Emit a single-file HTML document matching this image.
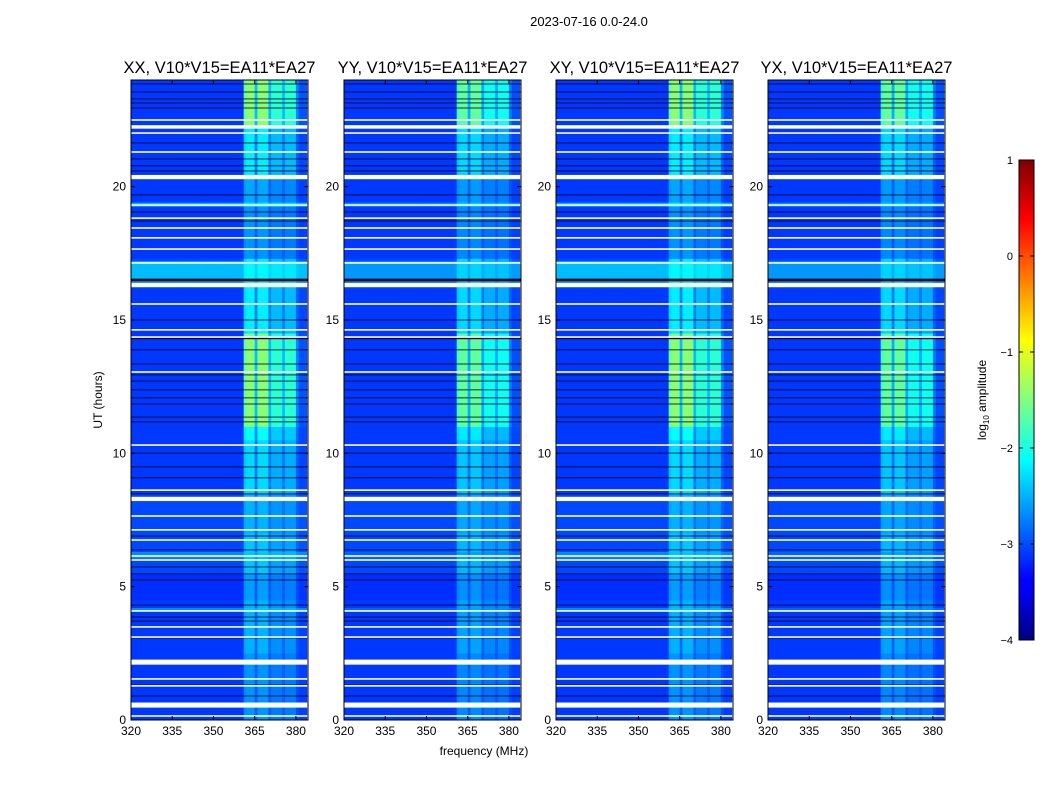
<!DOCTYPE html>
<html><head><meta charset="utf-8">
<style>
body{margin:0;background:#fff;}
svg{display:block;font-family:"Liberation Sans",sans-serif;}
</style></head>
<body>
<svg id="fig" width="1050" height="800" viewBox="0 0 1050 800">
<defs>
<linearGradient id="jet" x1="0" y1="1" x2="0" y2="0">
<stop offset="0" stop-color="#000080"/><stop offset="0.11" stop-color="#0000ff"/>
<stop offset="0.125" stop-color="#0000ff"/><stop offset="0.375" stop-color="#00ffff"/>
<stop offset="0.5" stop-color="#80ff80"/><stop offset="0.625" stop-color="#ffff00"/>
<stop offset="0.875" stop-color="#ff0000"/><stop offset="1" stop-color="#800000"/>
</linearGradient>
</defs>
<text x="589" y="26" font-size="13" text-anchor="middle">2023-07-16 0.0-24.0</text>
<text x="484" y="755" font-size="12" text-anchor="middle">frequency (MHz)</text>
<text transform="translate(102,400) rotate(-90)" font-size="12" text-anchor="middle">UT (hours)</text>
<g id="panels"></g>
<g id="cbar">
<rect x="1019" y="160" width="15" height="480" fill="url(#jet)" stroke="#000" stroke-width="1"/>
</g>
<text transform="translate(986,400) rotate(-90)" font-size="12" text-anchor="middle">log<tspan font-size="8" dy="3">10</tspan><tspan dy="-3"> amplitude</tspan></text>
</svg>
<script>
// ---- data ----
const panelTitles = ["XX, V10*V15=EA11*EA27","YY, V10*V15=EA11*EA27","XY, V10*V15=EA11*EA27","YX, V10*V15=EA11*EA27"];
const panelScale = [1, 0.88, 1, 0.88];
const xTicks = [320,335,350,365,380];
const yTicks = [0,5,10,15,20];
const cbTicks = [1,0,-1,-2,-3,-4];
const chanStart = 320;
const chanGain = [0,0,0,0,0,0,0,0,0,0, 0,0,0,0,0,0,0,0,0,0, 0,0,0,0,0,0,0,0,0,0, 0,0,0,0,0,0,0,0,0,0,
  0,0.9,1,1,1,0.4,1,1,1,1, 0.4,0.72,0.72,0.72,0.72,0.4,0.72,0.72,0.72,0.72, 0.25,0.08,0.08,0.08];
const bandStart = [0,2.5,4.5,5.5,7,8.5,10.5,11,14.5,16.2,17.3,19.4,20.3,22.3];
const bandEnd   = [2.5,4.5,5.5,7,8.5,10.5,11,14.5,16.2,17.3,19.4,20.3,22.3,24];
const bandBg    = [-3.1,-3.1,-3.15,-3.02,-3.02,-3.1,-3.1,-3.1,-3.1,-3.02,-3.1,-3.1,-3.1,-3.1];
const bandRfi   = [-2.65,-2.5,-2.6,-2.4,-2.5,-2.3,-2.1,-1.45,-2.2,-2.2,-2.65,-2.55,-2.2,-1.45];
const brightStart = [19.25,16.4,6.05,4.05];
const brightEnd   = [19.4,17.2,6.3,4.2];
const brightLevel = [-2.5,-2.45,-2.7,-2.7];
const whiteHr = [22.5,22.24,22.01,21.3,20.36,19.31,18.82,18.45,18.08,17.66,17.14,16.31,15.6,14.63,14.36,13.05,10.31,8.62,8.29,7.65,7.13,6.75,6.15,6.0,4.09,3.49,3.11,2.17,1.54,1.28,0.56,0.15];
const whiteW  = [0.06,0.13,0.06,0.06,0.16,0.06,0.06,0.06,0.06,0.06,0.06,0.16,0.06,0.06,0.06,0.06,0.06,0.06,0.16,0.06,0.06,0.06,0.06,0.06,0.06,0.06,0.06,0.19,0.06,0.06,0.19,0.06];
const blackHr = [23.85,23.55,23.29,23.14,22.95,21.64,21.04,20.78,20.59,19.69,19.05,18.71,16.5,15.0,14.33,13.88,13.35,12.94,12.71,12.38,12.08,11.85,11.36,11.18,10.01,9.49,9.08,8.48,6.9,6.38,5.74,5.48,5.25,4.31,3.86,3.71,3.08,1.31,0.9];
const blackW  = [0.03,0.03,0.03,0.03,0.03,0.03,0.03,0.03,0.03,0.03,0.03,0.03,0.1,0.03,0.1,0.03,0.03,0.03,0.03,0.03,0.03,0.03,0.03,0.03,0.03,0.03,0.03,0.03,0.03,0.03,0.03,0.03,0.03,0.03,0.03,0.03,0.03,0.03,0.03];

const NS = "http://www.w3.org/2000/svg";
const panelLeft = [131,344,556,768];
const PW = 177, PT = 80, PB = 720, FMAX = 384.4, TMAX = 24;
function xs(p,f){ return panelLeft[p] + (f-320)/(FMAX-320)*PW; }
function ys(h){ return PB - h/TMAX*(PB-PT); }
function jet(v){
  let t = (v+4)/5; t = Math.max(0,Math.min(1,t));
  const r = Math.max(0,Math.min(1,Math.min(4*t-1.5,-4*t+4.5)));
  const g = Math.max(0,Math.min(1,Math.min(4*t-0.5,-4*t+3.5)));
  const b = Math.max(0,Math.min(1,Math.min(4*t+0.5,-4*t+2.5)));
  return `rgb(${Math.round(r*255)},${Math.round(g*255)},${Math.round(b*255)})`;
}
function mk(tag, attrs, parent){
  const e = document.createElementNS(NS, tag);
  for (const k in attrs) e.setAttribute(k, attrs[k]);
  parent.appendChild(e); return e;
}
const root = document.getElementById('panels');
for (let p=0;p<4;p++){
  const g = mk('g',{},root);
  
  
  const x0 = panelLeft[p];
  for (let b=0;b<bandStart.length;b++){
    for (let c=0;c<chanGain.length;c++){
      const f = chanStart + c;
      const v = bandBg[b] + chanGain[c]*(bandRfi[b]-bandBg[b])*panelScale[p];
      const xa = xs(p,f), xb = Math.min(xs(p,f+1), x0+PW);
      const r = mk('rect',{x:xa, y:ys(bandEnd[b]), width:xb-xa+0.3, height:ys(bandStart[b])-ys(bandEnd[b])+0.3, fill:jet(v)}, g);
      
      
    }
  }
  for (let i=0;i<brightStart.length;i++){
    for (let c=0;c<chanGain.length;c++){
      const f = chanStart + c;
      const lv = brightLevel[i] + (panelScale[p]-1)*1.5;
      const v = lv + chanGain[c]*0.3;
      const xa = xs(p,f), xb = Math.min(xs(p,f+1), x0+PW);
      const r = mk('rect',{x:xa, y:ys(brightEnd[i]), width:xb-xa+0.3, height:ys(brightStart[i])-ys(brightEnd[i]), fill:jet(v)}, g);
      
      
    }
  }
  for (let i=0;i<blackHr.length;i++){
    const h = blackW[i]/TMAX*(PB-PT);
    const r = mk('rect',{x:x0, y:ys(blackHr[i])-h/2, width:PW, height:h, fill:'#00001a'}, g);
    
    
  }
  for (let i=0;i<whiteHr.length;i++){
    const h = whiteW[i]/TMAX*(PB-PT);
    const r = mk('rect',{x:x0, y:ys(whiteHr[i])-h/2, width:PW, height:h, fill:'#fff'}, g);
    
    
  }
  const fr = mk('rect',{x:x0, y:PT, width:PW, height:PB-PT, fill:'none', stroke:'#000', 'stroke-width':1}, g);
  
  
  const t = mk('text',{x:x0+PW/2, y:73, 'font-size':16.5, 'text-anchor':'middle'}, g);
  t.textContent = panelTitles[p];
  
  
  for (const f of xTicks){
    const x = xs(p,f);
    mk('line',{x1:x,x2:x,y1:PB,y2:PB-4,stroke:'#000'},g);
    mk('line',{x1:x,x2:x,y1:PT,y2:PT+4,stroke:'#000'},g);
    const l = mk('text',{x:x, y:PB+15, 'font-size':12, 'text-anchor':'middle'}, g);
    l.textContent = f;
    
    
  }
  for (const h of yTicks){
    const y = ys(h);
    mk('line',{x1:x0,x2:x0+4,y1:y,y2:y,stroke:'#000'},g);
    mk('line',{x1:x0+PW,x2:x0+PW-4,y1:y,y2:y,stroke:'#000'},g);
    const l = mk('text',{x:x0-5, y:y+4, 'font-size':12, 'text-anchor':'end'}, g);
    l.textContent = h;
    
    
  }
}
const cb = document.getElementById('cbar');
for (const v of cbTicks){
  const y = 160 + (1-v)/5*480;
  mk('line',{x1:1019,x2:1023,y1:y,y2:y,stroke:'#000'},cb);
  mk('line',{x1:1034,x2:1030,y1:y,y2:y,stroke:'#000'},cb);
  const l = mk('text',{x:1013, y:y+4, 'font-size':11, 'text-anchor':'end'}, cb);
  l.textContent = v < 0 ? '\u2212'+(-v) : v;
  
  
}
</script>
</body></html>
